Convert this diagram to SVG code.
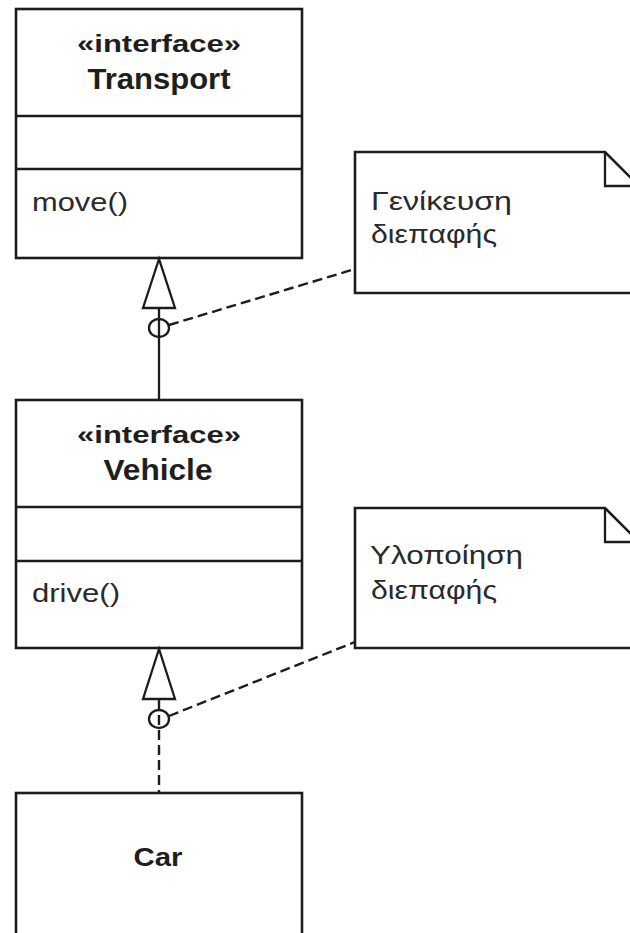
<svg xmlns="http://www.w3.org/2000/svg" width="630" height="933" viewBox="0 0 630 933">
  <style>
    .box { fill: #ffffff; stroke: #1c1c1c; stroke-width: 2.6; }
    .sep { stroke: #1c1c1c; stroke-width: 2.4; }
    .edge { fill: none; stroke: #1c1c1c; stroke-width: 2.3; }
    .dash { fill: none; stroke: #1c1c1c; stroke-width: 2.4; stroke-dasharray: 10 5; }
    .head { fill: #ffffff; stroke: #1c1c1c; stroke-width: 2.3; stroke-linejoin: miter; }
    .stereo { font-family: "Liberation Sans", Arial, sans-serif; font-weight: bold; font-size: 24px; fill: #1e1e1e; text-anchor: middle; }
    .name { font-family: "Liberation Sans", Arial, sans-serif; font-weight: bold; font-size: 29px; fill: #1e1e1e; text-anchor: middle; }
    .op { font-family: "Liberation Sans", Arial, sans-serif; font-size: 26px; fill: #2a2a2a; }
    .note-text { font-family: "Liberation Sans", Arial, sans-serif; font-size: 25px; fill: #2a2a2a; }
  </style>

  <!-- Interface Transport -->
  <g id="transport">
    <rect class="box" x="16" y="9" width="286" height="249"/>
    <line class="sep" x1="16" y1="116" x2="302" y2="116"/>
    <line class="sep" x1="16" y1="169" x2="302" y2="169"/>
    <text class="stereo" x="159" y="52" textLength="164" lengthAdjust="spacingAndGlyphs">«interface»</text>
    <text class="name" x="159" y="89" textLength="143" lengthAdjust="spacingAndGlyphs">Transport</text>
    <text class="op" x="32" y="211" textLength="96" lengthAdjust="spacingAndGlyphs">move()</text>
  </g>

  <!-- Interface Vehicle -->
  <g id="vehicle">
    <rect class="box" x="16" y="400" width="286" height="248"/>
    <line class="sep" x1="16" y1="507" x2="302" y2="507"/>
    <line class="sep" x1="16" y1="561" x2="302" y2="561"/>
    <text class="stereo" x="159" y="443" textLength="164" lengthAdjust="spacingAndGlyphs">«interface»</text>
    <text class="name" x="158" y="480" textLength="109" lengthAdjust="spacingAndGlyphs">Vehicle</text>
    <text class="op" x="32" y="602" textLength="88" lengthAdjust="spacingAndGlyphs">drive()</text>
  </g>

  <!-- Class Car -->
  <g id="car">
    <rect class="box" x="16" y="793" width="286" height="160"/>
    <text class="name" x="158" y="866" style="font-size:26px" textLength="49" lengthAdjust="spacingAndGlyphs">Car</text>
  </g>

  <!-- Note: generalisation -->
  <g id="note-generalization">
    <path class="box" d="M355,152 H605 L645,192 V293 H355 Z"/>
    <path class="edge" d="M605,152 V186 H645"/>
    <text class="note-text" x="371" y="210" textLength="141" lengthAdjust="spacingAndGlyphs">Γενίκευση</text>
    <text class="note-text" x="371" y="243" textLength="126" lengthAdjust="spacingAndGlyphs">διεπαφής</text>
  </g>

  <!-- Note: realisation -->
  <g id="note-realization">
    <path class="box" d="M355,508 H605 L645,548 V648 H355 Z"/>
    <path class="edge" d="M605,508 V542 H645"/>
    <text class="note-text" x="370" y="564" textLength="153" lengthAdjust="spacingAndGlyphs">Υλοποίηση</text>
    <text class="note-text" x="371" y="599" textLength="126" lengthAdjust="spacingAndGlyphs">διεπαφής</text>
  </g>

  <!-- Connectors -->
  <g id="connectors">
    <!-- Vehicle generalises Transport -->
    <line class="edge" x1="159" y1="308" x2="159" y2="400"/>
    <polygon class="head" points="159,259 143,308 175,308"/>
    <ellipse class="edge" cx="159" cy="328" rx="10" ry="9"/>
    <line class="dash" x1="169" y1="325" x2="355" y2="269"/>

    <!-- Car realises Vehicle -->
    <line class="dash" x1="159" y1="700" x2="159" y2="793"/>
    <polygon class="head" points="159,649 143,699 175,699"/>
    <ellipse class="edge" cx="159" cy="719" rx="10" ry="9"/>
    <line class="dash" x1="169" y1="716" x2="355" y2="642"/>
  </g>
</svg>
